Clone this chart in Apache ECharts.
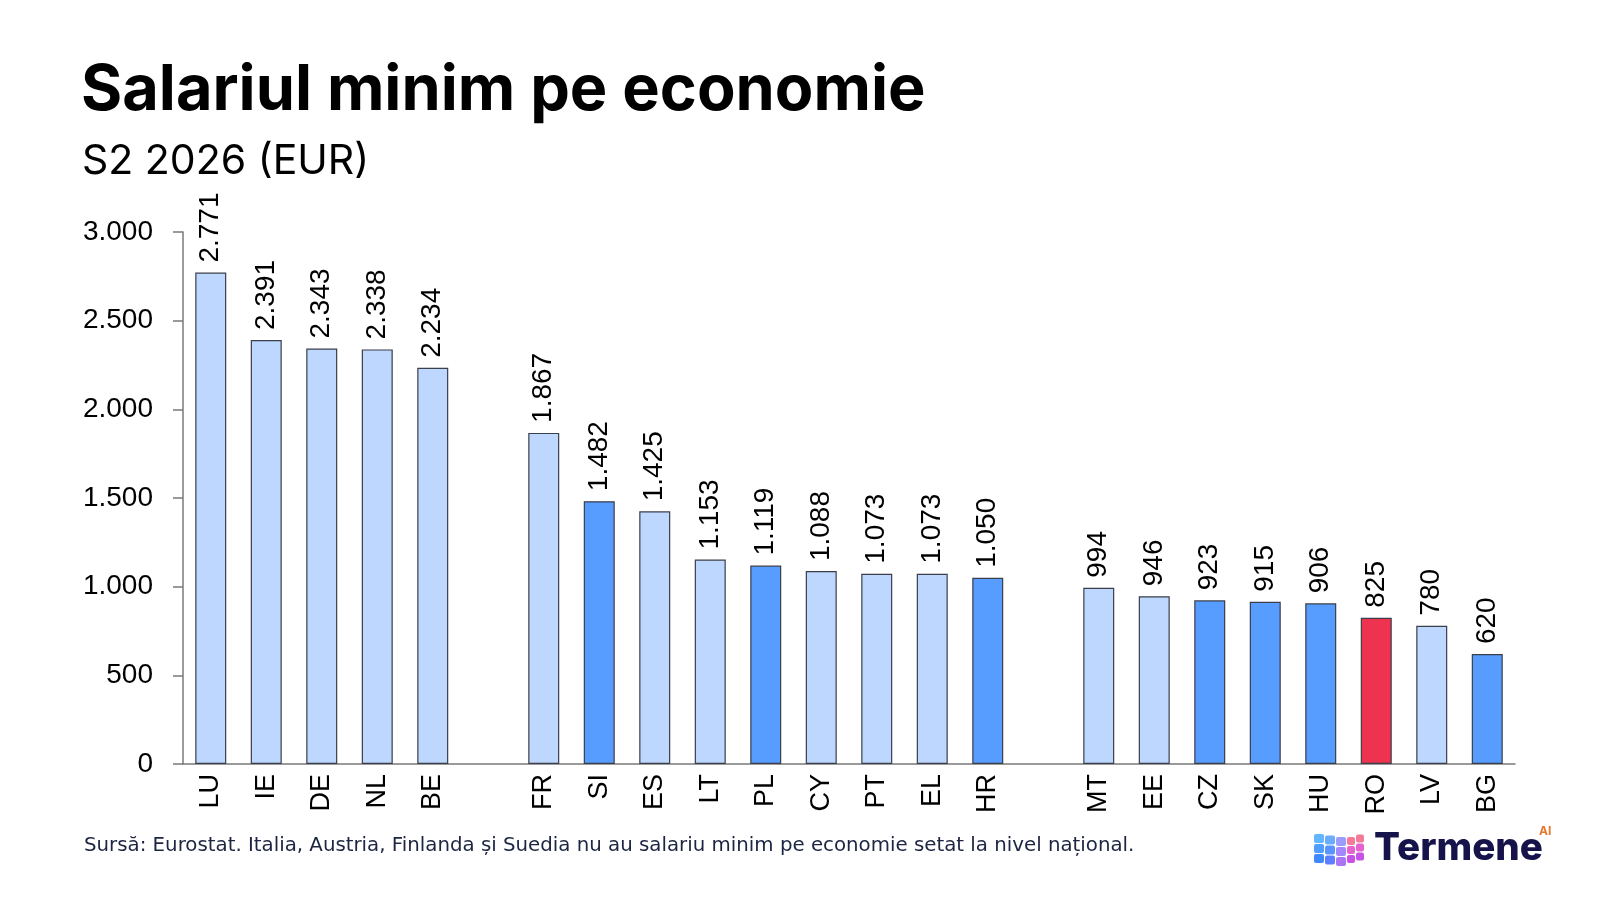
<!DOCTYPE html>
<html>
<head>
<meta charset="utf-8">
<title>Salariul minim pe economie</title>
<script src="https://cdn.jsdelivr.net/npm/echarts@6/dist/echarts.min.js"></script>
<style>
    html, body { margin: 0; padding: 0; background: #ffffff; }
    #chart { width: 1600px; height: 900px; }
</style>
</head>
<body>
<div id="chart"></div>
<script>
// empty strings are the gaps between the three country groups
const countries = ['LU', 'IE', 'DE', 'NL', 'BE', '',
    'FR', 'SI', 'ES', 'LT', 'PL', 'CY', 'PT', 'EL', 'HR', '',
    'MT', 'EE', 'CZ', 'SK', 'HU', 'RO', 'LV', 'BG'];
const wages = [2771, 2391, 2343, 2338, 2234, '-',
    1867, 1482, 1425, 1153, 1119, 1088, 1073, 1073, 1050, '-',
    994, 946, 923, 915, 906, 825, 780, 620];
// l = light blue, d = darker blue, r = Romania
const groups = ['l', 'l', 'l', 'l', 'l', '',
    'l', 'd', 'l', 'l', 'd', 'l', 'l', 'l', 'd', '',
    'l', 'l', 'd', 'd', 'd', 'r', 'l', 'd'];
const yTicks = [0, 500, 1000, 1500, 2000, 2500, 3000];

const palette = { l: '#bdd7fe', d: '#579cff', r: '#ee3350' };
const fmt = v => String(v).replace(/\B(?=(\d{3})+(?!\d))/g, '.');

const chart = echarts.init(document.getElementById('chart'), null, { renderer: 'canvas' });

// logo squares, just decoration
const cube = [];
const cubeColors = [
    ['#62b6ff', '#6cacff', '#9a9cff'],
    ['#4f9eff', '#5a94ff', '#a488fb'],
    ['#3f88ff', '#5c7eff', '#aa76f5']
];
for (let r = 0; r < 3; r++) {
    for (let c = 0; c < 3; c++) {
        cube.push({
            type: 'rect',
            shape: { x: 1314 + c * 11, y: 834 + r * 10 + c * 1.5, width: 10, height: 9, r: 2 },
            style: { fill: cubeColors[r][c] }
        });
    }
    for (let c = 0; c < 2; c++) {
        cube.push({
            type: 'rect',
            shape: { x: 1347 + c * 9, y: 837 + r * 9 - c * 2.5, width: 8, height: 8, r: 2 },
            style: { fill: r === 0 ? '#f47b98' : (r === 1 ? '#e862cf' : '#c852e8') }
        });
    }
}

const option = {
    backgroundColor: '#ffffff',
    animation: false,
    title: [
        {
            text: 'Salariul minim pe economie',
            left: 76, top: 55,
            textStyle: { fontFamily: 'Inter', fontWeight: 700, fontSize: 63, color: '#000000' }
        },
        {
            text: 'S2 2026 (EUR)',
            left: 77, top: 136,
            textStyle: { fontFamily: 'Inter', fontWeight: 400, fontSize: 41, color: '#000000' }
        },
        {
            text: 'Sursă: Eurostat. Italia, Austria, Finlanda și Suedia nu au salariu minim pe economie setat la nivel național.',
            left: 79, top: 831,
            textStyle: { fontFamily: 'DejaVu Sans', fontWeight: 400, fontSize: 19.8, color: '#1c2541' }
        }
    ],
    grid: { left: 183, right: 85, top: 232, bottom: 136 },
    xAxis: {
        type: 'category',
        data: countries,
        axisLine: { show: true, lineStyle: { color: '#7a7a7a', width: 1.5 } },
        axisTick: { show: false },
        axisLabel: {
            rotate: 90,
            margin: 10,
            interval: 0,
            fontFamily: 'Liberation Sans',
            fontSize: 27,
            color: '#000000'
        }
    },
    yAxis: {
        type: 'value',
        min: yTicks[0],
        max: yTicks[yTicks.length - 1],
        interval: 500,
        axisLine: { show: true, lineStyle: { color: '#7a7a7a', width: 1.5 } },
        axisTick: { show: true, length: 10, lineStyle: { color: '#7a7a7a', width: 1.5 } },
        splitLine: { show: false },
        axisLabel: {
            margin: 30,
            fontFamily: 'Liberation Sans',
            fontSize: 28,
            color: '#000000',
            formatter: v => fmt(v)
        }
    },
    series: [{
        type: 'bar',
        data: wages.map((v, i) => ({
            value: v,
            itemStyle: { color: palette[groups[i]] || '#bdd7fe' }
        })),
        barWidth: 31,
        itemStyle: { borderColor: '#3a3f4a', borderWidth: 1.2 },
        label: {
            show: true,
            position: 'top',
            rotate: 90,
            align: 'left',
            verticalAlign: 'middle',
            distance: 10,
            fontFamily: 'Liberation Sans',
            fontSize: 28,
            color: '#000000',
            formatter: p => fmt(p.value)
        }
    }],
    graphic: [
        ...cube,
        {
            type: 'text',
            left: 1374, top: 829,
            style: {
                text: 'Termene',
                fontFamily: 'Inter', fontWeight: 800, fontSize: 38.5,
                fill: '#15134a'
            }
        },
        {
            type: 'text',
            left: 1539, top: 825,
            style: {
                text: 'AI',
                fontFamily: 'Inter', fontWeight: 700, fontSize: 12,
                fill: '#e8782c'
            }
        }
    ]
};

chart.setOption(option);
</script>
</body>
</html>
